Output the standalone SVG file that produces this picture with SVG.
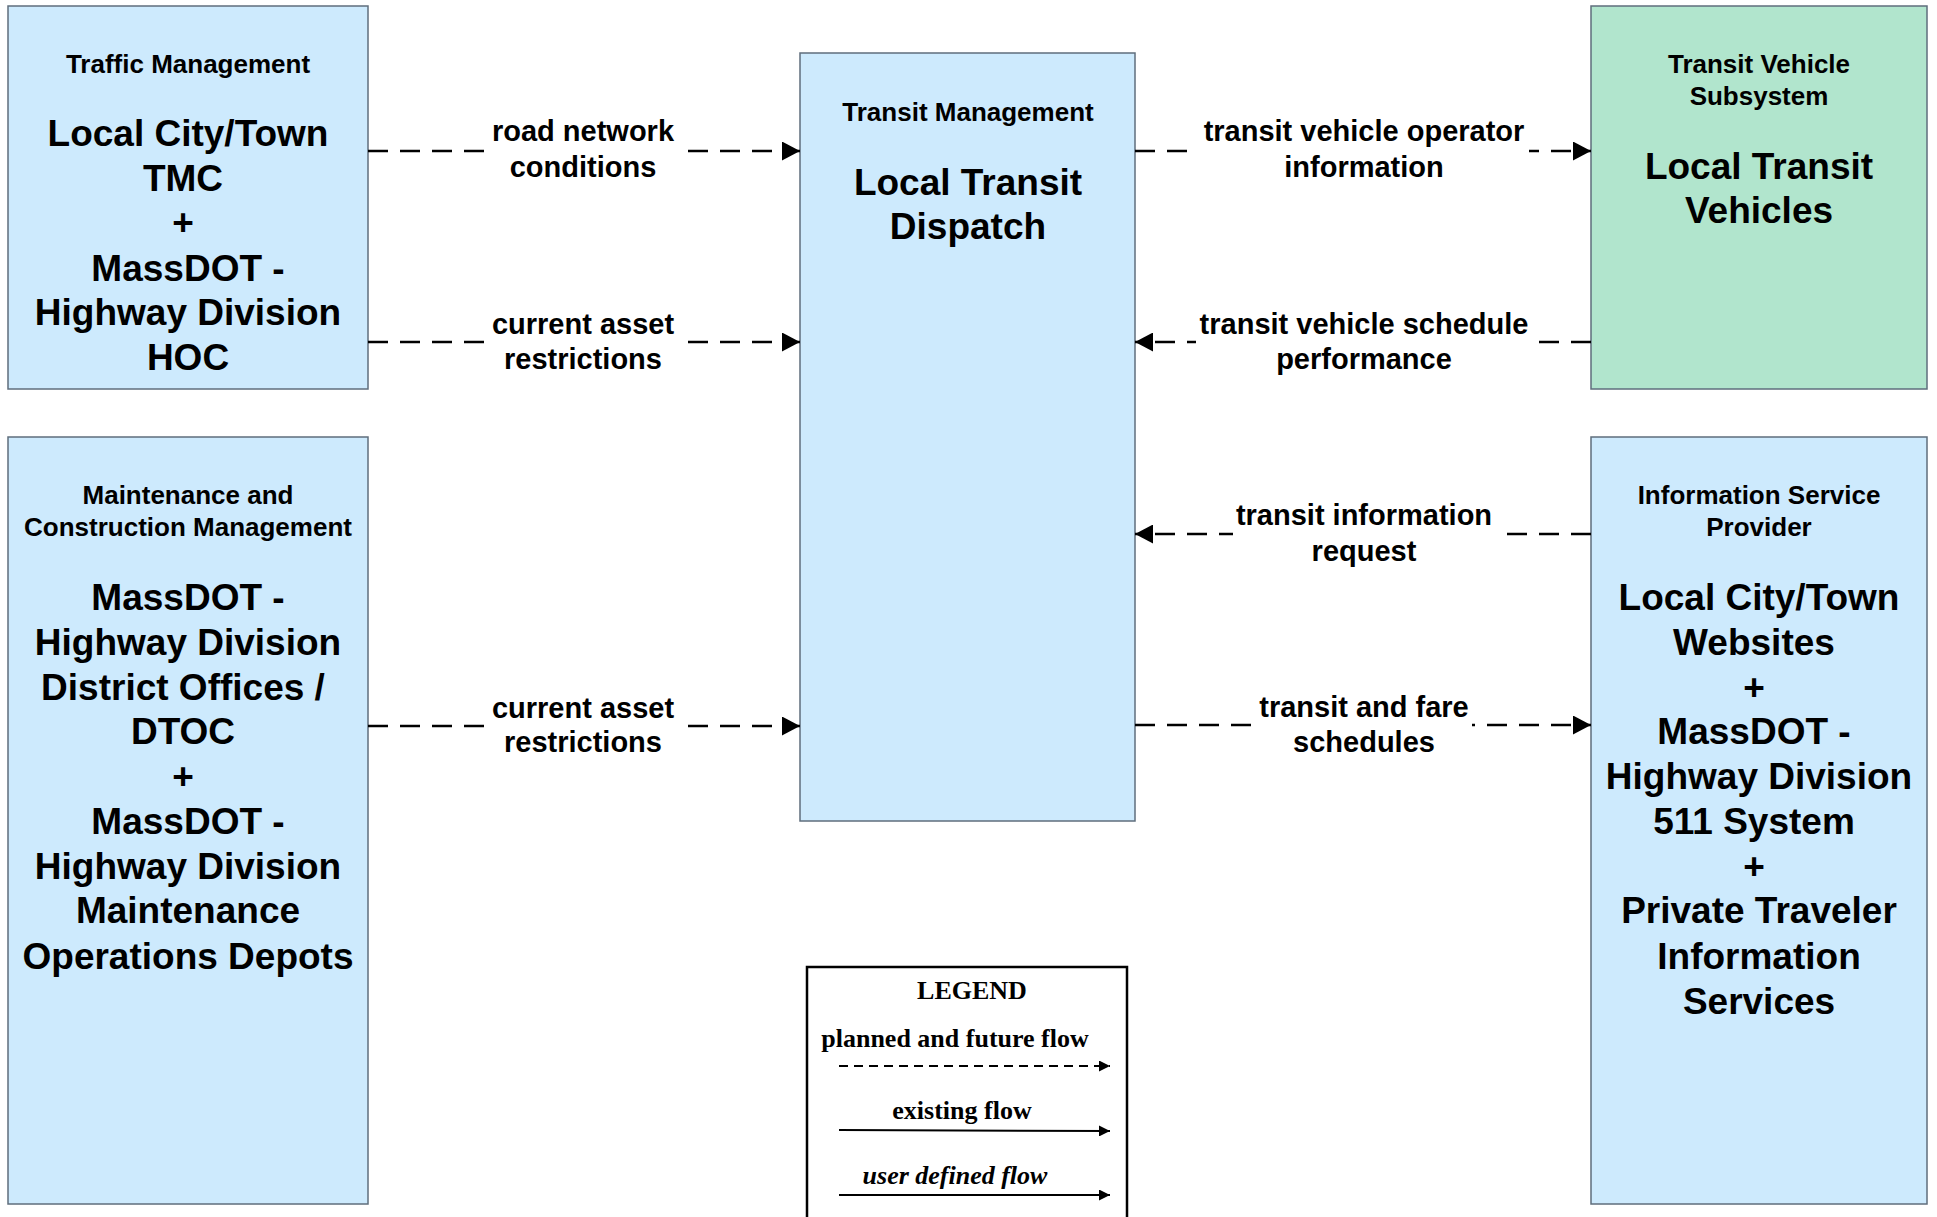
<svg xmlns="http://www.w3.org/2000/svg" width="1937" height="1217" viewBox="0 0 1937 1217">
<defs>
<style>
.box{fill:#cdeafd;stroke:#5f6e7c;stroke-width:1.5}
.green{fill:#b1e5cd;stroke:#5f6e7c;stroke-width:1.5}
.sm{font-family:"Liberation Sans",Arial,sans-serif;font-weight:bold;font-size:26px;text-anchor:middle;fill:#000}
.bg{font-family:"Liberation Sans",Arial,sans-serif;font-weight:bold;font-size:37px;text-anchor:middle;fill:#000}
.lbl{font-family:"Liberation Sans",Arial,sans-serif;font-weight:bold;font-size:29px;text-anchor:middle;fill:#000}
.flow{fill:none;stroke:#000;stroke-width:2.5;stroke-dasharray:20 12}
.gap{fill:#fff}
.lg{font-family:"Liberation Serif","Times New Roman",serif;font-weight:bold;font-size:26px;text-anchor:middle;fill:#000}
</style>
<marker id="ah" viewBox="0 0 10 10" refX="10" refY="5" markerWidth="18" markerHeight="19" markerUnits="userSpaceOnUse" orient="auto" preserveAspectRatio="none">
<path d="M0,0 L10,5 L0,10 z" fill="#000"/>
</marker>
<marker id="ahs" viewBox="0 0 10 10" refX="10" refY="5" markerWidth="11" markerHeight="11" markerUnits="userSpaceOnUse" orient="auto">
<path d="M0,0 L10,5 L0,10 z" fill="#000"/>
</marker>
</defs>
<rect width="1937" height="1217" fill="#fff"/>

<g id="traffic-management">
<rect class="box" x="8" y="6" width="360" height="383"/>
<text class="sm" x="188" y="73">Traffic Management</text>
<text class="bg" x="188" y="146">Local City/Town</text>
<text class="bg" x="183" y="191">TMC</text>
<text class="bg" x="183" y="235">+</text>
<text class="bg" x="188" y="281">MassDOT -</text>
<text class="bg" x="188" y="325">Highway Division</text>
<text class="bg" x="188" y="370">HOC</text>
</g>

<g id="maintenance-construction">
<rect class="box" x="8" y="437" width="360" height="767"/>
<text class="sm" x="188" y="504">Maintenance and</text>
<text class="sm" x="188" y="536">Construction Management</text>
<text class="bg" x="188" y="610">MassDOT -</text>
<text class="bg" x="188" y="655">Highway Division</text>
<text class="bg" x="183" y="700">District Offices /</text>
<text class="bg" x="183" y="744">DTOC</text>
<text class="bg" x="183" y="789">+</text>
<text class="bg" x="188" y="834">MassDOT -</text>
<text class="bg" x="188" y="879">Highway Division</text>
<text class="bg" x="188" y="923">Maintenance</text>
<text class="bg" x="188" y="969">Operations Depots</text>
</g>

<g id="transit-management">
<rect class="box" x="800" y="53" width="335" height="768"/>
<text class="sm" x="968" y="121">Transit Management</text>
<text class="bg" x="968" y="195">Local Transit</text>
<text class="bg" x="968" y="239">Dispatch</text>
</g>

<g id="transit-vehicle-subsystem">
<rect class="green" x="1591" y="6" width="336" height="383"/>
<text class="sm" x="1759" y="73">Transit Vehicle</text>
<text class="sm" x="1759" y="105">Subsystem</text>
<text class="bg" x="1759" y="179">Local Transit</text>
<text class="bg" x="1759" y="223">Vehicles</text>
</g>

<g id="information-service-provider">
<rect class="box" x="1591" y="437" width="336" height="767"/>
<text class="sm" x="1759" y="504">Information Service</text>
<text class="sm" x="1759" y="536">Provider</text>
<text class="bg" x="1759" y="610">Local City/Town</text>
<text class="bg" x="1754" y="655">Websites</text>
<text class="bg" x="1754" y="700">+</text>
<text class="bg" x="1754" y="744">MassDOT -</text>
<text class="bg" x="1759" y="789">Highway Division</text>
<text class="bg" x="1754" y="834">511 System</text>
<text class="bg" x="1754" y="879">+</text>
<text class="bg" x="1759" y="923">Private Traveler</text>
<text class="bg" x="1759" y="969">Information</text>
<text class="bg" x="1759" y="1014">Services</text>
</g>

<g id="connectors">
<line class="flow" x1="368" y1="151" x2="800" y2="151" marker-end="url(#ah)"/>
<rect class="gap" x="486" y="122" width="194" height="60"/>
<text class="lbl" x="583" y="141">road network</text>
<text class="lbl" x="583" y="177">conditions</text>

<line class="flow" x1="368" y1="342" x2="800" y2="342" marker-end="url(#ah)"/>
<rect class="gap" x="486" y="313" width="194" height="60"/>
<text class="lbl" x="583" y="334">current asset</text>
<text class="lbl" x="583" y="369">restrictions</text>

<line class="flow" x1="368" y1="726" x2="800" y2="726" marker-end="url(#ah)"/>
<rect class="gap" x="486" y="697" width="194" height="60"/>
<text class="lbl" x="583" y="718">current asset</text>
<text class="lbl" x="583" y="752">restrictions</text>

<line class="flow" x1="1135" y1="151" x2="1591" y2="151" marker-end="url(#ah)"/>
<rect class="gap" x="1199" y="122" width="330" height="60"/>
<text class="lbl" x="1364" y="141">transit vehicle operator</text>
<text class="lbl" x="1364" y="177">information</text>

<line class="flow" x1="1591" y1="342" x2="1135" y2="342" marker-end="url(#ah)"/>
<rect class="gap" x="1196" y="313" width="337" height="60"/>
<text class="lbl" x="1364" y="334">transit vehicle schedule</text>
<text class="lbl" x="1364" y="369">performance</text>

<line class="flow" x1="1591" y1="534" x2="1135" y2="534" marker-end="url(#ah)"/>
<rect class="gap" x="1233" y="505" width="263" height="60"/>
<text class="lbl" x="1364" y="525">transit information</text>
<text class="lbl" x="1364" y="561">request</text>

<line class="flow" x1="1135" y1="725" x2="1591" y2="725" marker-end="url(#ah)"/>
<rect class="gap" x="1257" y="696" width="215" height="60"/>
<text class="lbl" x="1364" y="717">transit and fare</text>
<text class="lbl" x="1364" y="752">schedules</text>
</g>

<g id="legend">
<rect x="807" y="967" width="320" height="270" fill="#fff" stroke="#000" stroke-width="2.5"/>
<text class="lg" x="972" y="999">LEGEND</text>
<text class="lg" x="955" y="1047">planned and future flow</text>
<line x1="839" y1="1066" x2="1110" y2="1066" stroke="#000" stroke-width="2" stroke-dasharray="9 6" marker-end="url(#ahs)"/>
<text class="lg" x="962" y="1119">existing flow</text>
<line x1="839" y1="1130" x2="1110" y2="1131" stroke="#000" stroke-width="2" marker-end="url(#ahs)"/>
<text class="lg" x="955" y="1184" font-style="italic">user defined flow</text>
<line x1="839" y1="1195" x2="1110" y2="1195" stroke="#000" stroke-width="2" marker-end="url(#ahs)"/>
</g>
</svg>
